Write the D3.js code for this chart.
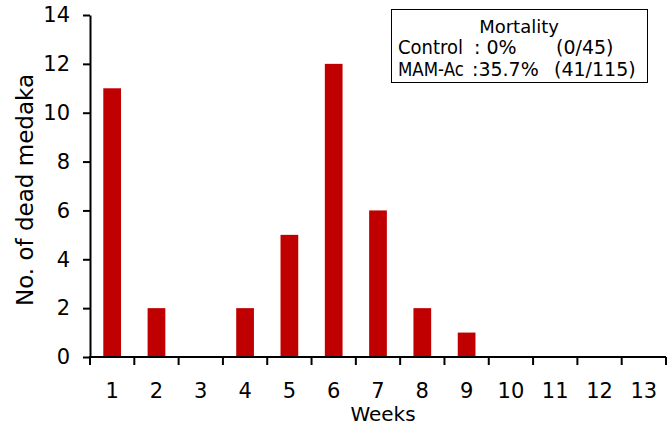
<!DOCTYPE html>
<html>
<head>
<meta charset="utf-8">
<script src="https://cdn.jsdelivr.net/npm/d3@7"></script>
<style>
  html, body { margin: 0; padding: 0; background: #fff; }
  svg { display: block; }
  text { font-family: "DejaVu Sans", Verdana, sans-serif; fill: #000; }
</style>
</head>
<body>
<svg id="chart" width="669" height="434"></svg>
<script>
const weeks = ["1","2","3","4","5","6","7","8","9","10","11","12","13"];
const deadCounts = [11, 2, 0, 2, 5, 12, 6, 2, 1, 0, 0, 0, 0];
const yTicks = [0, 2, 4, 6, 8, 10, 12, 14];
const legendTitle = "Mortality";
const legendRows = [
  ["Control", ": 0%", "(0/45)"],
  ["MAM-Ac", ":35.7%", "(41/115)"]
];
const xTitle = "Weeks";
const yTitle = "No. of dead medaka";

const svg = d3.select("#chart");
const mLeft = 90, mRight = 666, mTop = 15, mBottom = 357;

const x = d3.scaleBand().domain(weeks).range([mLeft, mRight]).padding(0);
const y = d3.scaleLinear().domain([0, 14]).range([mBottom, mTop]);

// bars
const bw = x.bandwidth() * 0.4;
svg.append("g").selectAll("rect")
  .data(weeks.map((w, i) => ({ w, v: deadCounts[i] })))
  .join("rect")
  .attr("x", d => x(d.w) + (x.bandwidth() - bw) / 2)
  .attr("width", bw)
  .attr("y", d => y(d.v))
  .attr("height", d => y(0) - y(d.v))
  .attr("fill", "#C00000");

// y axis
const yAxis = svg.append("g")
  .attr("transform", `translate(${mLeft},0)`)
  .call(d3.axisLeft(y).tickValues(yTicks).tickSize(7).tickPadding(13).tickSizeOuter(0));
yAxis.select(".domain").attr("stroke", "#000").attr("stroke-width", 2);
yAxis.selectAll(".tick line").attr("stroke", "#000").attr("stroke-width", 2);
yAxis.selectAll(".tick text").attr("font-size", 21).attr("font-family", "DejaVu Sans, sans-serif");

// x axis line
svg.append("line")
  .attr("x1", mLeft - 1).attr("x2", mRight)
  .attr("y1", mBottom).attr("y2", mBottom)
  .attr("stroke", "#000").attr("stroke-width", 2);

// x ticks at band boundaries
const boundaries = weeks.map(w => x(w)).concat([x.range()[1]]);
svg.append("g").selectAll("line")
  .data(boundaries)
  .join("line")
  .attr("x1", d => d).attr("x2", d => d)
  .attr("y1", mBottom).attr("y2", mBottom + 8)
  .attr("stroke", "#000").attr("stroke-width", 2);

// x labels
svg.append("g").selectAll("text")
  .data(weeks)
  .join("text")
  .attr("x", d => x(d) + x.bandwidth() / 2)
  .attr("y", 398)
  .attr("text-anchor", "middle")
  .attr("font-size", 21)
  .text(d => d);

// axis titles
svg.append("text")
  .attr("x", 383)
  .attr("y", 421)
  .attr("text-anchor", "middle")
  .attr("font-size", 20)
  .text(xTitle);

svg.append("text")
  .attr("transform", "translate(33,190) rotate(-90)")
  .attr("text-anchor", "middle")
  .attr("font-family", "Liberation Sans, Arial, sans-serif")
  .attr("font-size", 23)
  .text(yTitle);

// legend box
const lg = svg.append("g");
lg.append("rect")
  .attr("x", 391.5).attr("y", 9.5)
  .attr("width", 256).attr("height", 73)
  .attr("fill", "#fff").attr("stroke", "#000").attr("stroke-width", 1);
lg.append("text")
  .attr("x", 519).attr("y", 33)
  .attr("text-anchor", "middle")
  .attr("font-size", 18)
  .text(legendTitle);
const colX = [[398, 474, 556], [398, 472, 554]];
const rowY = [54, 76];
legendRows.forEach((row, r) => {
  row.forEach((t, c) => {
    const tx = lg.append("text")
      .attr("x", colX[r][c]).attr("y", rowY[r])
      .attr("font-size", 19)
      .text(t);
    if (c === 0) {
      tx.attr("textLength", r === 0 ? 65 : 66).attr("lengthAdjust", "spacingAndGlyphs");
    }
  });
});
</script>
</body>
</html>
